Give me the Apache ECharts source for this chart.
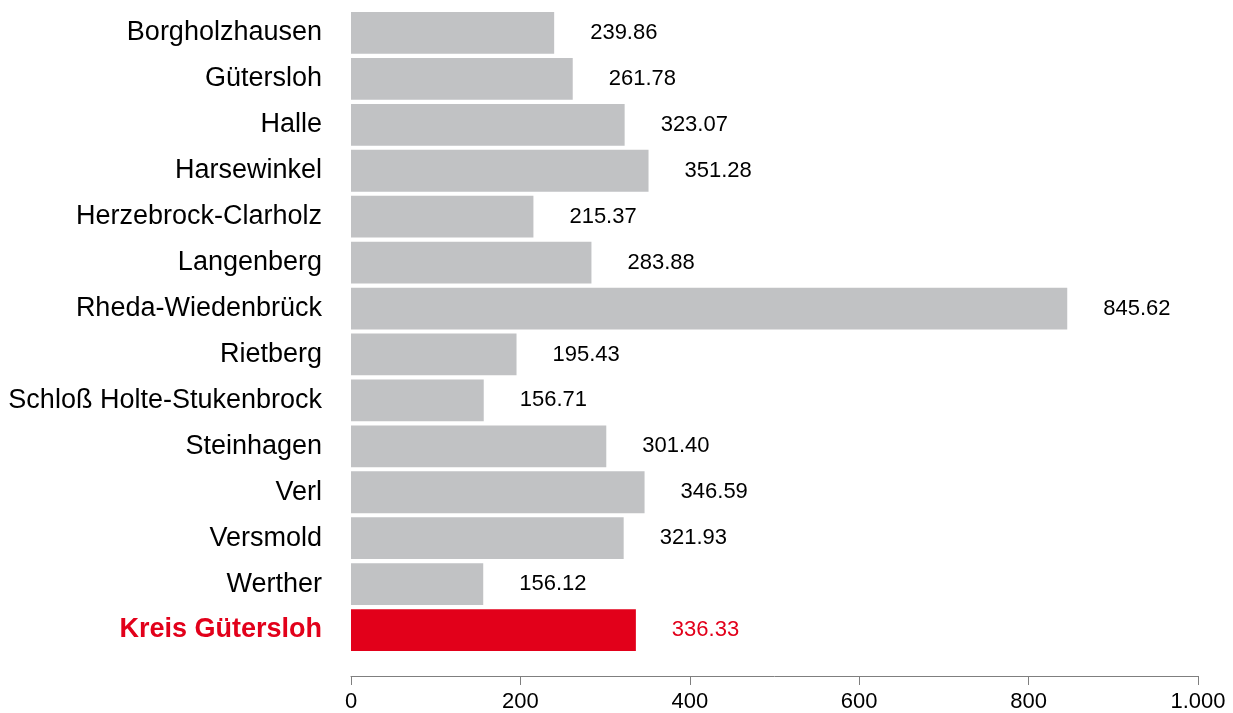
<!DOCTYPE html>
<html>
<head>
<meta charset="utf-8">
<script src="https://cdn.jsdelivr.net/npm/echarts@6/dist/echarts.min.js"></script>
<style>
  html, body { margin: 0; padding: 0; background: #fff; }
  #chart { width: 1233px; height: 713px; }
</style>
</head>
<body>
<div id="chart"></div>
<script>
const categories = [
    'Borgholzhausen', 'Gütersloh', 'Halle', 'Harsewinkel', 'Herzebrock-Clarholz',
    'Langenberg', 'Rheda-Wiedenbrück', 'Rietberg', 'Schloß Holte-Stukenbrock',
    'Steinhagen', 'Verl', 'Versmold', 'Werther', 'Kreis Gütersloh'
];
const values = [
    239.86, 261.78, 323.07, 351.28, 215.37,
    283.88, 845.62, 195.43, 156.71,
    301.40, 346.59, 321.93, 156.12, 336.33
];
const highlight = 'Kreis Gütersloh';
const xTicks = [0, 200, 400, 600, 800, 1000];

const GREY = '#c1c2c4';
const RED = '#e2001a';

const chart = echarts.init(document.getElementById('chart'));

// German thousands separator: 1000 -> 1.000
const fmtDE = v => String(v).replace(/\B(?=(\d{3})+(?!\d))/g, '.');

const option = {
    animation: false,
    backgroundColor: '#fff',
    textStyle: { fontFamily: 'Liberation Sans, Arial, sans-serif' },
    grid: { left: 351, right: 35, top: 10, bottom: 57 },
    xAxis: {
        type: 'value',
        min: xTicks[0],
        max: xTicks[xTicks.length - 1],
        interval: 200,
        offset: 23,
        axisLine: { show: true, lineStyle: { color: '#7f7f7f', width: 1 } },
        axisTick: { show: true, length: 9, lineStyle: { color: '#7f7f7f' } },
        axisLabel: {
            color: '#000', fontSize: 22, margin: 15,
            formatter: v => fmtDE(v)
        },
        splitLine: { show: false }
    },
    yAxis: {
        type: 'category',
        inverse: true,
        data: categories,
        axisLine: { show: false },
        axisTick: { show: false },
        axisLabel: {
            margin: 29,
            fontSize: 27,
            color: '#000',
            rich: {
                hl: { fontSize: 27, fontWeight: 'bold', color: RED }
            },
            formatter: v => v === highlight ? '{hl|' + v + '}' : v
        }
    },
    series: [{
        type: 'bar',
        barCategoryGap: '9%',
        data: values.map((v, i) => ({
            value: v,
            itemStyle: { color: categories[i] === highlight ? RED : GREY },
            label: { color: categories[i] === highlight ? RED : '#000' }
        })),
        label: {
            show: true,
            position: 'right',
            distance: 36,
            fontSize: 22,
            formatter: p => p.value.toFixed(2)
        }
    }]
};

chart.setOption(option);
</script>
</body>
</html>
